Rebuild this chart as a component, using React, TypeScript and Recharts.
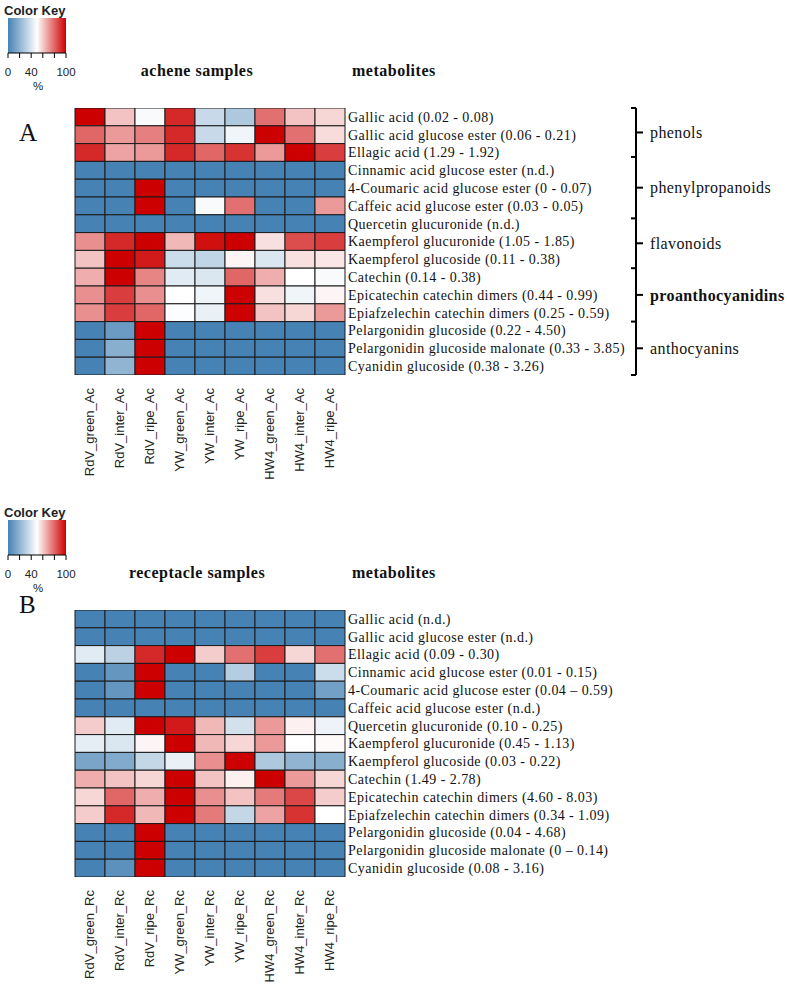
import React from 'react';
import { BarChart, Bar, XAxis, YAxis, Cell } from 'recharts';

const acheneSamples = ['RdV_green_Ac', 'RdV_inter_Ac', 'RdV_ripe_Ac', 'YW_green_Ac', 'YW_inter_Ac', 'YW_ripe_Ac', 'HW4_green_Ac', 'HW4_inter_Ac', 'HW4_ripe_Ac'];
const receptacleSamples = ['RdV_green_Rc', 'RdV_inter_Rc', 'RdV_ripe_Rc', 'YW_green_Rc', 'YW_inter_Rc', 'YW_ripe_Rc', 'HW4_green_Rc', 'HW4_inter_Rc', 'HW4_ripe_Rc'];

const acheneMetabolites = [
  'Gallic acid (0.02 - 0.08)',
  'Gallic acid glucose ester (0.06 - 0.21)',
  'Ellagic acid (1.29 - 1.92)',
  'Cinnamic acid glucose ester (n.d.)',
  '4-Coumaric acid glucose ester (0 - 0.07)',
  'Caffeic acid glucose ester (0.03 - 0.05)',
  'Quercetin glucuronide (n.d.)',
  'Kaempferol glucuronide (1.05 - 1.85)',
  'Kaempferol glucoside (0.11 - 0.38)',
  'Catechin (0.14 - 0.38)',
  'Epicatechin catechin dimers (0.44 - 0.99)',
  'Epiafzelechin catechin dimers (0.25 - 0.59)',
  'Pelargonidin glucoside (0.22 - 4.50)',
  'Pelargonidin glucoside malonate (0.33 - 3.85)',
  'Cyanidin glucoside (0.38 - 3.26)',
];

const receptacleMetabolites = [
  'Gallic acid (n.d.)',
  'Gallic acid glucose ester (n.d.)',
  'Ellagic acid (0.09 - 0.30)',
  'Cinnamic acid glucose ester (0.01 - 0.15)',
  '4-Coumaric acid glucose ester (0.04 \u2013 0.59)',
  'Caffeic acid glucose ester (n.d.)',
  'Quercetin glucuronide (0.10 - 0.25)',
  'Kaempferol glucuronide (0.45 - 1.13)',
  'Kaempferol glucoside (0.03 - 0.22)',
  'Catechin (1.49 - 2.78)',
  'Epicatechin catechin dimers (4.60 - 8.03)',
  'Epiafzelechin catechin dimers (0.34 - 1.09)',
  'Pelargonidin glucoside (0.04 - 4.68)',
  'Pelargonidin glucoside malonate (0 \u2013 0.14)',
  'Cyanidin glucoside (0.08 - 3.16)',
];

// percent values (0-100), rows = metabolites, columns = samples
const acheneValues = [
  [100, 62, 48, 92, 35, 28, 78, 62, 58],
  [80, 70, 75, 92, 35, 46, 100, 78, 57],
  [92, 68, 70, 92, 80, 90, 70, 100, 88],
  [0, 0, 0, 0, 0, 0, 0, 0, 0],
  [0, 0, 100, 0, 0, 0, 0, 0, 0],
  [0, 0, 100, 0, 48, 78, 0, 0, 70],
  [0, 0, 0, 0, 0, 0, 0, 0, 0],
  [72, 92, 100, 64, 97, 100, 56, 85, 88],
  [62, 100, 95, 36, 33, 52, 40, 56, 55],
  [66, 100, 74, 42, 40, 80, 66, 50, 48],
  [72, 88, 72, 50, 46, 100, 56, 46, 52],
  [72, 88, 80, 49, 44, 100, 62, 58, 70],
  [0, 10, 100, 0, 0, 0, 0, 0, 0],
  [0, 18, 100, 0, 0, 0, 0, 0, 0],
  [0, 20, 100, 0, 0, 0, 0, 0, 0],
];

const receptacleValues = [
  [0, 0, 0, 0, 0, 0, 0, 0, 0],
  [0, 0, 0, 0, 0, 0, 0, 0, 0],
  [42, 32, 92, 100, 60, 78, 88, 58, 78],
  [0, 8, 100, 0, 0, 30, 0, 0, 36],
  [0, 8, 100, 0, 0, 0, 0, 0, 12],
  [0, 0, 0, 0, 0, 0, 0, 0, 0],
  [60, 42, 100, 95, 64, 38, 70, 53, 45],
  [43, 40, 52, 100, 64, 58, 70, 50, 51],
  [14, 16, 34, 44, 72, 100, 28, 20, 18],
  [66, 62, 58, 100, 62, 53, 100, 70, 58],
  [58, 80, 66, 100, 72, 62, 76, 86, 60],
  [60, 92, 64, 100, 76, 34, 68, 90, 50],
  [0, 0, 100, 0, 0, 0, 0, 0, 0],
  [0, 0, 100, 0, 0, 0, 0, 0, 0],
  [0, 6, 100, 0, 0, 0, 0, 0, 0],
];

const groupNames = ['phenols', 'phenylpropanoids', 'flavonoids', 'proanthocyanidins', 'anthocyanins'];
const groupBounds = [0, 2.75, 6.2, 9, 12, 15];
const keyTicks = [0, 20, 40, 60, 80, 100];
const keyLabels = [0, 40, 100];

const BLUE = [70, 130, 180];
const WHITE = [255, 255, 255];
const RED = [205, 0, 0];

function heatColor(v: number) {
  let a = BLUE, b = WHITE, t = v / 50;
  if (v > 50) { a = WHITE; b = RED; t = (v - 50) / 50; }
  const c = a.map((x, i) => Math.round(x + (b[i] - x) * t));
  return `rgb(${c[0]},${c[1]},${c[2]})`;
}

const SERIF = '"Liberation Serif", "Times New Roman", serif';
const SANS = '"Liberation Sans", Arial, sans-serif';

const SampleTick = (props: any) => {
  const { x, y, payload } = props;
  return (
    <text transform={`translate(${x + 4},${y + 13}) rotate(-90)`} textAnchor="end" fontFamily={SANS} fontSize={13} fill="#222">
      {payload.value}
    </text>
  );
};

const makeMetTick = (labels: string[]) => (props: any) => {
  const { x, y, payload } = props;
  const idx = Math.floor(payload.value);
  return (
    <text x={x + 3} y={y} dy="0.35em" textAnchor="start" fontFamily={SERIF} fontSize={14} letterSpacing={0.45} fill="#111">
      {labels[idx]}
    </text>
  );
};

const groupMids = groupNames.map((_, i) => (groupBounds[i] + groupBounds[i + 1]) / 2);
const groupTicks = [...groupBounds, ...groupMids].sort((a, b) => a - b);

const GroupTick = (props: any) => {
  const { x, y, payload } = props;
  const v = payload.value;
  const gi = groupMids.indexOf(v);
  if (gi >= 0) {
    return (
      <g>
        <line x1={x} x2={x + 7} y1={y} y2={y} stroke="#000" strokeWidth={2} />
        <text x={x + 14} y={y} dy="0.35em" fontFamily={SERIF} fontSize={16} letterSpacing={0.4}
          fontWeight={groupNames[gi] === 'proanthocyanidins' ? 'bold' : 'normal'} fill="#111">
          {groupNames[gi]}
        </text>
      </g>
    );
  }
  return <line x1={x - 5} x2={x} y1={y} y2={y} stroke="#000" strokeWidth={2} />;
};

const rowTicks = acheneMetabolites.map((_, i) => i + 0.5);

function Heatmap({ samples, metabolites, values, showGroups }: any) {
  const data = samples.map((s: string) => {
    const row: any = { sample: s };
    metabolites.forEach((_: string, i: number) => { row['r' + i] = 1; });
    return row;
  });
  return (
    <BarChart width={787} height={502} data={data}
      margin={{ top: 108, left: 75, right: showGroups ? 0 : 151, bottom: 17 }}
      barCategoryGap={0} barGap={0}>
      <XAxis dataKey="sample" type="category" interval={0} tickSize={0} tickMargin={0}
        axisLine={false} tickLine={false} height={110} tick={<SampleTick />} />
      {showGroups && (
        <YAxis yAxisId="z_groups" orientation="right" type="number" domain={[0, 15]} reversed
          allowDataOverflow ticks={groupTicks} interval={0} width={151}
          axisLine={{ stroke: '#000', strokeWidth: 2 }} tickLine={false} tickSize={0} tickMargin={0}
          tick={<GroupTick />} />
      )}
      <YAxis yAxisId="a_rows" orientation="right" type="number" domain={[0, 15]} reversed
        allowDataOverflow ticks={rowTicks} interval={0} width={291} axisLine={false}
        tickLine={false} tickSize={0} tickMargin={0} tick={makeMetTick(metabolites)} />
      {metabolites.map((m: string, i: number) => (
        <Bar key={m} dataKey={'r' + i} stackId="s" yAxisId="a_rows" isAnimationActive={false}
          stroke="#1a1a1a" strokeWidth={1}>
          {samples.map((s: string, j: number) => (
            <Cell key={s} fill={heatColor(values[i][j])} />
          ))}
        </Bar>
      ))}
    </BarChart>
  );
}

const KeyTick = (props: any) => {
  const { x, y, payload } = props;
  if (!keyLabels.includes(payload.value)) return <g />;
  return (
    <text x={x} y={y + 18} textAnchor="middle" fontFamily={SANS} fontSize={11.5} fill="#222">
      {payload.value}
    </text>
  );
};

function ColorKey({ id }: { id: string }) {
  const data = [{ k: 'key', v: 100 }];
  return (
    <BarChart layout="vertical" width={90} height={95} data={data}
      margin={{ top: 18, left: 8, right: 24, bottom: 0 }} barCategoryGap={0}>
      <defs>
        <linearGradient id={id} x1="0" x2="1" y1="0" y2="0">
          <stop offset="0%" stopColor="rgb(70,130,180)" />
          <stop offset="50%" stopColor="#ffffff" />
          <stop offset="100%" stopColor="rgb(205,0,0)" />
        </linearGradient>
      </defs>
      <XAxis type="number" domain={[0, 100]} ticks={keyTicks} interval={0} height={42}
        tickSize={5} tickMargin={0} axisLine={{ stroke: '#000' }} tickLine={{ stroke: '#000' }}
        tick={<KeyTick />} />
      <YAxis type="category" dataKey="k" hide />
      <Bar dataKey="v" fill={`url(#${id})`} isAnimationActive={false} />
    </BarChart>
  );
}

function Panel({ top, letter, title, samples, metabolites, values, showGroups, keyId }: any) {
  return (
    <div style={{ position: 'absolute', left: 0, top, width: 787, height: 502 }}>
      <div style={{ position: 'absolute', left: 0, top: 0 }}>
        <Heatmap samples={samples} metabolites={metabolites} values={values} showGroups={showGroups} />
      </div>
      <div style={{ position: 'absolute', left: 0, top: 0 }}>
        <ColorKey id={keyId} />
      </div>
      <svg width={787} height={200} style={{ position: 'absolute', left: 0, top: 0, pointerEvents: 'none' }}>
        <text x={4} y={15} fontFamily={SANS} fontWeight="bold" fontSize={13} fill="#222">Color Key</text>
        <text x={38} y={90} textAnchor="middle" fontFamily={SANS} fontSize={11.5} fill="#222">%</text>
        <text x={197} y={76} textAnchor="middle" fontFamily={SERIF} fontWeight="bold" fontSize={16} letterSpacing={0.5} fill="#111">{title}</text>
        <text x={352} y={76} fontFamily={SERIF} fontWeight="bold" fontSize={16} letterSpacing={0.5} fill="#111">metabolites</text>
        <text x={19} y={letter === 'A' ? 141 : 111} fontFamily={SERIF} fontSize={25} fill="#111">{letter}</text>
      </svg>
    </div>
  );
}

export default function App() {
  return (
    <div style={{ position: 'absolute', left: 0, top: 0, width: 787, height: 985, background: '#fff' }}>
      <Panel top={0} letter="A" title="achene samples" samples={acheneSamples}
        metabolites={acheneMetabolites} values={acheneValues} showGroups keyId="keyGradA" />
      <Panel top={502} letter="B" title="receptacle samples" samples={receptacleSamples}
        metabolites={receptacleMetabolites} values={receptacleValues} showGroups={false} keyId="keyGradB" />
    </div>
  );
}
